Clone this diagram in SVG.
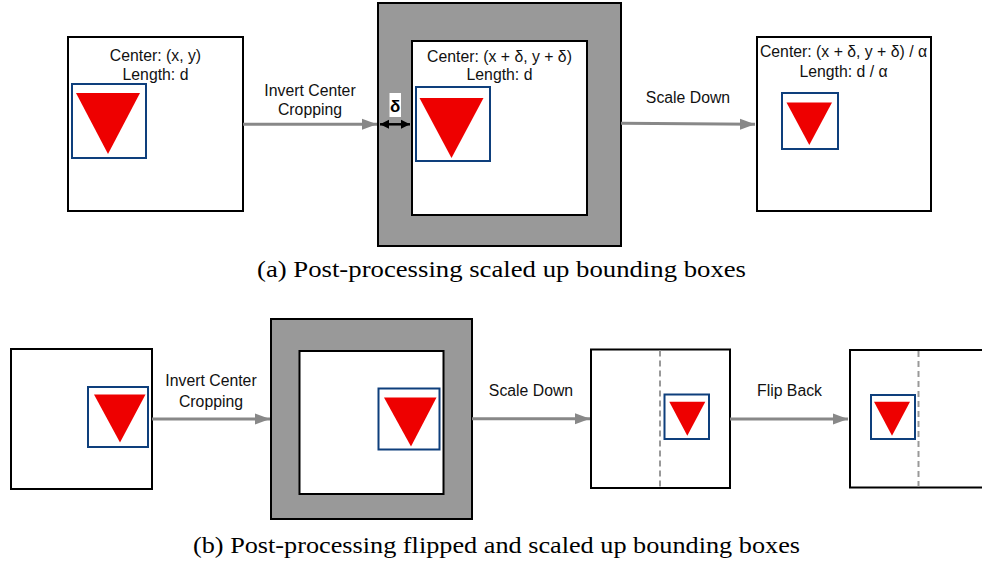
<svg xmlns="http://www.w3.org/2000/svg" width="982" height="564" viewBox="0 0 982 564">
  <defs>
    <marker id="gray-head" markerUnits="userSpaceOnUse" markerWidth="16" markerHeight="12" refX="15" refY="6" orient="auto">
      <path d="M0,0.5 L15,6 L0,11.5 Z" fill="#888888"/>
    </marker>
    <marker id="black-head" markerUnits="userSpaceOnUse" markerWidth="10" markerHeight="10" refX="9" refY="5" orient="auto-start-reverse">
      <path d="M0,0.5 L9,5 L0,9.5 Z" fill="#000000"/>
    </marker>
  </defs>
  <style>
    .frame { fill: #ffffff; stroke: #000000; stroke-width: 2; }
    .pad { fill: #999999; stroke: #000000; stroke-width: 2; }
    .bbox { fill: #ffffff; stroke: #0e3f7c; stroke-width: 2; }
    .tri { fill: #ee0000; }
    .flow { fill: none; stroke: #888888; stroke-width: 3; marker-end: url(#gray-head); }
    .axis { fill: none; stroke: #999999; stroke-width: 2; stroke-dasharray: 6 4; }
    .lbl { font-family: "Liberation Sans", Arial, sans-serif; font-size: 15.8px; fill: #111111; text-anchor: middle; }
    .cap { font-family: "Liberation Serif", "Times New Roman", serif; font-size: 23px; fill: #000000; text-anchor: middle; }
  </style>
  <rect width="982" height="564" fill="#ffffff"/>

  <!-- (a) scaled-up boxes -->
  <g id="a-original">
    <rect class="frame" x="68" y="37" width="175" height="174"/>
    <text class="lbl" x="155.5" y="61">Center: (x, y)</text>
    <text class="lbl" x="155.5" y="80">Length: d</text>
    <rect class="bbox" x="72" y="84" width="74" height="74"/>
    <polygon class="tri" points="76,93 140,93 108,154"/>
  </g>

  <g id="a-padded">
    <rect class="pad" x="378" y="3" width="243" height="243"/>
    <rect class="frame" x="412" y="41" width="175" height="174"/>
    <text class="lbl" x="499.5" y="61.5">Center: (x + δ, y + δ)</text>
    <text class="lbl" x="499.5" y="80">Length: d</text>
    <rect class="bbox" x="416" y="87" width="74" height="74"/>
    <polygon class="tri" points="419.5,98 483.5,98 451.5,158"/>
    <rect x="389.5" y="93" width="11.5" height="24" fill="#ffffff"/>
    <text x="395.2" y="112" font-family="Liberation Sans, Arial, sans-serif" font-size="17" font-weight="bold" text-anchor="middle" fill="#000000">δ</text>
    <line x1="380" y1="124.3" x2="410" y2="124.3" stroke="#000000" stroke-width="2.5" marker-start="url(#black-head)" marker-end="url(#black-head)"/>
  </g>

  <g id="a-scaled">
    <rect class="frame" x="757" y="37" width="174" height="174"/>
    <text class="lbl" x="843.5" y="56.5">Center: (x + δ, y + δ) / α</text>
    <text class="lbl" x="843.5" y="76.5">Length: d / α</text>
    <rect class="bbox" x="782" y="93" width="56" height="56"/>
    <polygon class="tri" points="786.5,102.5 832,102.5 809.3,145"/>
  </g>

  <!-- (b) flipped and scaled-up boxes -->
  <g id="b-original">
    <rect class="frame" x="11" y="349" width="141" height="140"/>
    <rect class="bbox" x="88" y="387" width="60" height="60"/>
    <polygon class="tri" points="94,394.5 145.5,394.5 120,442.5"/>
  </g>

  <g id="b-padded">
    <rect class="pad" x="271" y="319" width="201" height="200"/>
    <rect class="frame" x="299.5" y="351" width="144" height="143"/>
    <rect class="bbox" x="378.5" y="388.5" width="61" height="61"/>
    <polygon class="tri" points="384,397.5 436.5,397.5 411,446.5"/>
  </g>

  <g id="b-scaled">
    <rect class="frame" x="591" y="349.5" width="139" height="138.5"/>
    <line class="axis" x1="660" y1="350.5" x2="660" y2="487"/>
    <rect class="bbox" x="664.5" y="394.5" width="44.5" height="44.5"/>
    <polygon class="tri" points="669.3,401.7 705.3,401.7 687.3,435.7"/>
  </g>

  <g id="b-flipped">
    <rect class="frame" x="850" y="350" width="140" height="137.5"/>
    <line class="axis" x1="918.5" y1="351" x2="918.5" y2="486.5"/>
    <rect class="bbox" x="871" y="395" width="44" height="44"/>
    <polygon class="tri" points="874,401.7 910,401.7 892,435.7"/>
  </g>

  <!-- connectors -->
  <g id="connectors">
    <line class="flow" x1="243" y1="124.3" x2="377" y2="124.3"/>
    <text class="lbl" x="310" y="95.5">Invert Center</text>
    <text class="lbl" x="310" y="114.5">Cropping</text>

    <line class="flow" x1="621" y1="123.3" x2="755" y2="124.3"/>
    <text class="lbl" x="688" y="103">Scale Down</text>

    <line class="flow" x1="152" y1="419" x2="270" y2="419"/>
    <text class="lbl" x="211" y="385.5">Invert Center</text>
    <text class="lbl" x="211" y="407">Cropping</text>

    <line class="flow" x1="472" y1="418.7" x2="590" y2="418.7"/>
    <text class="lbl" x="531" y="396">Scale Down</text>

    <line class="flow" x1="730" y1="419" x2="848" y2="419"/>
    <text class="lbl" x="789.5" y="395.5">Flip Back</text>
  </g>

  <!-- captions -->
  <text class="cap" x="501.5" y="276.5" textLength="489" lengthAdjust="spacingAndGlyphs">(a) Post-processing scaled up bounding boxes</text>
  <text class="cap" x="496.5" y="553" textLength="607" lengthAdjust="spacingAndGlyphs">(b) Post-processing flipped and scaled up bounding boxes</text>
</svg>
